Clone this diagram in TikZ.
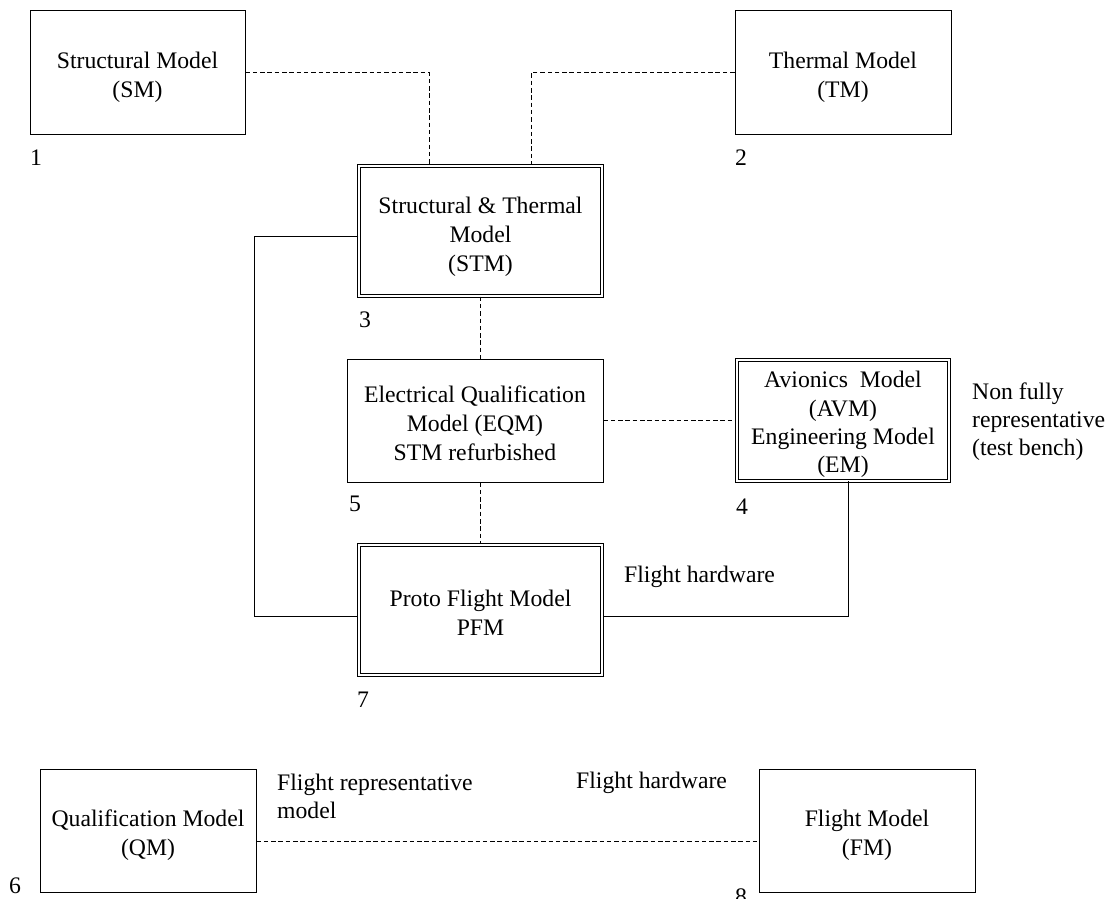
\documentclass[tikz,border=0pt]{standalone}
\usepackage{fontspec}
\setmainfont{Liberation Serif}
% invisible strut that lowers a box's text block a little
\newcommand\lowerby[1]{\rule{0pt}{#1pt}}
\begin{document}
\begin{tikzpicture}[x=1pt,y=-1pt,
  txt/.style={font=\fontsize{23.7pt}{29pt}\selectfont},
  model/.style={txt,draw,line width=1pt,align=center,inner sep=0pt},
  dmodel/.style={model,double,double distance=2.2pt,line width=0.8pt},
  note/.style={txt,inner sep=0pt,anchor=west,align=left},
  link/.style={line width=0.9pt},
  dlink/.style={line width=0.9pt,dash pattern=on 4.5pt off 2.8pt}]
\useasboundingbox (0,0) rectangle (1114,899);

% model boxes
\node[model,minimum width=215pt,minimum height=123pt] (SM) at (137.5,72.5) {\lowerby{26.5}Structural Model\\(SM)};
\node[model,minimum width=216pt,minimum height=123pt] (TM) at (843,72.5) {\lowerby{26.5}Thermal Model\\(TM)};
\node[dmodel,minimum width=243.5pt,minimum height=130.5pt] (STM) at (480.5,231) {\lowerby{28.5}Structural \& Thermal\\Model\\(STM)};
\node[model,minimum width=256pt,minimum height=123pt] (EQM) at (475,420.5) {\lowerby{21.5}Electrical Qualification\\Model (EQM)\\STM refurbished};
\node[dmodel,minimum width=212.5pt,minimum height=120.5pt,font=\fontsize{23.7pt}{28.3pt}\selectfont] (AVM) at (843,420.5) {\lowerby{24.5}Avionics\ \ Model\\(AVM)\\Engineering Model\\(EM)};
\node[dmodel,minimum width=243.5pt,minimum height=130.5pt] (PFM) at (480.5,610) {\lowerby{21.5}Proto Flight Model\\PFM};
\node[model,minimum width=216pt,minimum height=123pt] (QM) at (148,830.5) {\lowerby{26.5}Qualification Model\\(QM)};
\node[model,minimum width=216pt,minimum height=123pt] (FM) at (867,830.5) {\lowerby{26.5}Flight Model\\(FM)};

% numbers
\node[note] (n1) at (30,158) {1};
\node[note] (n2) at (735,158) {2};
\node[note] (n3) at (359,320) {3};
\node[note] (n4) at (736,507) {4};
\node[note] (n5) at (349,504) {5};
\node[note] (n6) at (9,886) {6};
\node[note] (n7) at (357,700) {7};
\node[note] (n8) at (735,897) {8};

% annotations
\node[note,font=\fontsize{23.7pt}{28pt}\selectfont] (nfr) at (972,422) {Non fully\\representative\\(test bench)};
\node[note] (fh1) at (624,577) {Flight hardware};
\node[note,font=\fontsize{23.7pt}{28pt}\selectfont] (frm) at (277,796) {Flight representative\\model};
\node[note] (fh2) at (576,783) {Flight hardware};

% connectors
\draw[dlink] (SM.east) -| ([xshift=-51.5pt]STM.north);
\draw[dlink] (TM.west) -| ([xshift=50.5pt]STM.north);
\draw[dlink] (STM.south) -- (STM.south |- EQM.north);
\draw[dlink] (STM.south |- EQM.south) -- (PFM.north);
\draw[dlink] (EQM.east) -- (AVM.west);
\draw[link] ([yshift=-5pt]STM.west) -- ++(-103.5,0) |- ([yshift=-6pt]PFM.west);
\draw[link] ([xshift=5pt]AVM.south) |- ([yshift=-6pt]PFM.east);
\draw[dlink] ([yshift=-10.5pt]QM.east) -- ([yshift=-10.5pt]FM.west);
\end{tikzpicture}
\end{document}
